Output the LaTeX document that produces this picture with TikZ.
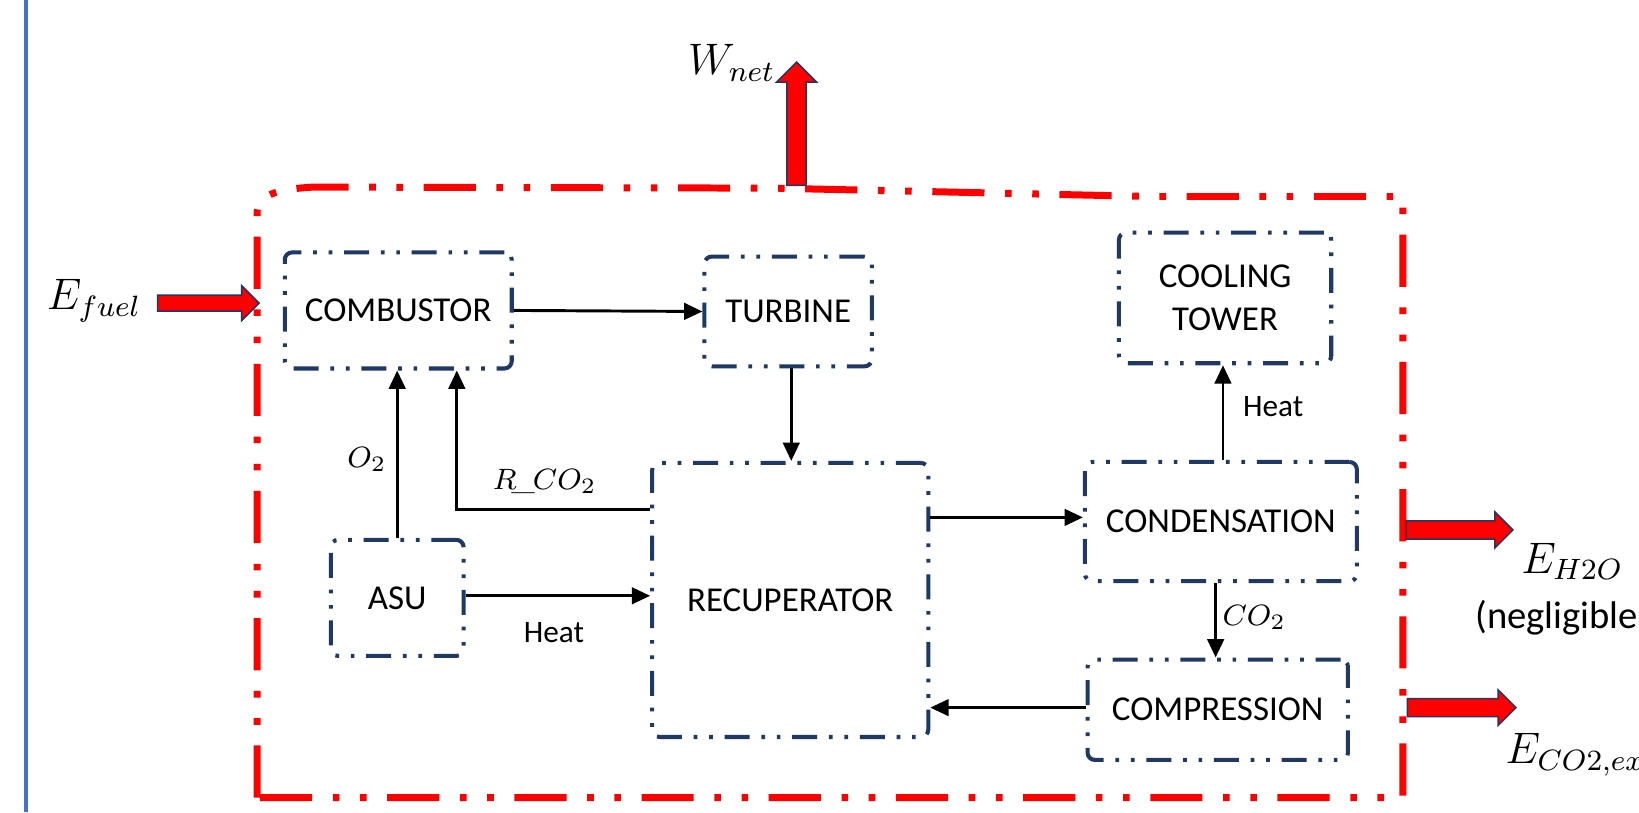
\documentclass[tikz,border=0pt]{standalone}
\usepackage{fontspec}
\setsansfont{Carlito}
\usetikzlibrary{shapes.arrows,arrows.meta}
\definecolor{boxblue}{HTML}{1F3864}
\definecolor{frameblue}{HTML}{4472C4}
\definecolor{flowred}{HTML}{FF0000}
\tikzset{
  unit/.style={draw=boxblue, line width=1.1pt, rounded corners=2pt,
    dash pattern=on 6.8pt off 3.2pt on 1pt off 3.2pt on 1pt off 3.2pt,
    font=\sffamily\fontsize{9.5}{11.5}\selectfont, align=center, inner sep=0pt},
  flow/.style={single arrow, fill=flowred, draw=boxblue, line width=0.4pt,
    inner xsep=0pt, single arrow head indent=0pt},
  small/.style={font=\sffamily\fontsize{8.5}{10}\selectfont},
  mathlbl/.style={font=\fontsize{8}{10}\selectfont},
  biglbl/.style={font=\fontsize{11.5}{14}\selectfont},
  stream/.style={->, line width=0.8pt},
}
\begin{document}
\begin{tikzpicture}[x=0.01cm, y=-0.01cm, >={Triangle[length=5pt,width=4.5pt]}]
    \useasboundingbox (0,0) rectangle (1568,777);
    \clip (0,0) rectangle (1568,777);
    \fill[white] (0,0) rectangle (1568,777);
    \draw[frameblue, line width=1pt] (25,0) -- (25,777);

    % control volume
    \draw[flowred, line width=1.9pt,
          dash pattern=on 14.2pt off 5.6pt on 1.8pt off 5.6pt on 1.8pt off 5.6pt]
        (246,763) -- (246,202) .. controls (246,188) and (262,181) .. (300,179)
        -- (740,180) -- (1100,188) -- (1342,188) -- (1342,763) -- cycle;

    % units
    \node[unit, minimum width=2.17cm, minimum height=1.11cm] (comb) at (381,297) {COMBUSTOR};
    \node[unit, minimum width=1.60cm, minimum height=1.05cm] (turb) at (754,298) {TURBINE};
    \node[unit, minimum width=2.03cm, minimum height=1.25cm] (cool) at (1172,285) {COOLING\\TOWER};
    \node[unit, minimum width=2.60cm, minimum height=1.14cm] (cond) at (1168,499) {CONDENSATION};
    \node[unit, minimum width=2.49cm, minimum height=0.96cm] (comp) at (1165,679) {COMPRESSION};
    \node[unit, minimum width=1.27cm, minimum height=1.11cm] (asu) at (380,572) {ASU};
    \node[unit, minimum width=2.64cm, minimum height=2.62cm] (recup) at (756,574) {RECUPERATOR};

    % streams
    \draw[stream] (comb.east) -- (turb.west);
    \draw[stream] (turb.south -| 757,0) -- (recup.north -| 757,0);
    \draw[stream] (asu.north) -- (asu.north |- comb.south);
    \node[mathlbl] (otwo) at (351,440) {$O_2$};
    \draw[stream] (recup.west |- 0,487) -| ([xshift=0.56cm]comb.south);
    \node[mathlbl] (rcotwo) at (521,461) {$R\mkern-3mu\_\mkern-1mu CO_2$};
    \draw[stream] (asu.east |- 0,570) -- (recup.west |- 0,570);
    \node[small] (heatasu) at (530,605) {Heat};
    \draw[stream] (recup.east |- 0,495) -- (cond.west |- 0,495);
    \draw[stream] (cond.north -| 1170,0) -- (cool.south -| 1170,0);
    \node[small] (heatcool) at (1218,389) {Heat};
    \draw[stream] (cond.south -| 1163,0) -- (comp.north -| 1163,0);
    \node[mathlbl] (cotwo) at (1200,591) {$CO_2$};
    \draw[stream] (comp.west |- 0,677) -- (recup.east |- 0,677);

    % energy flows
    \node[biglbl] (efuel) at (90,288) {$E_{fuel}$};
    \node[flow, minimum height=0.97cm, inner ysep=0.07cm, single arrow head extend=0.09cm] (fuelin) at (195.5,290) {};
    \node[biglbl] (wnet) at (700,60) {$W_{net}$};
    \node[flow, rotate=90, minimum height=1.18cm, inner ysep=0.085cm, single arrow head extend=0.10cm] (wout) at (762,123) {};
    \node[flow, minimum height=1.02cm, inner ysep=0.08cm, single arrow head extend=0.085cm] (h2oout) at (1392,507) {};
    \node[biglbl, anchor=west] (eh2o) at (1443,537) {$E_{H2O}$};
    \node[font=\sffamily\fontsize{10.5}{12}\selectfont, anchor=west, inner xsep=0pt] (negl) at (1411,591) {(negligible};
    \node[flow, minimum height=1.04cm, inner ysep=0.08cm, single arrow head extend=0.085cm] (co2out) at (1394,677) {};
    \node[biglbl, anchor=west] (eco2) at (1428,722) {$E_{CO2,export}$};
\end{tikzpicture}
\end{document}
